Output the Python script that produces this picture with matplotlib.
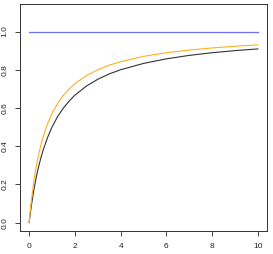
import matplotlib
matplotlib.use("Agg")
import matplotlib.pyplot as plt

# valores
x_vals = [0, 0.05, 0.1, 0.2, 0.3, 0.4, 0.5, 0.6, 0.8, 1, 1.25, 1.5, 1.75,
          2, 2.5, 3, 3.5, 4, 5, 6, 7, 8, 9, 10]
black_vals = [0, .048, .091, .167, .231, .286, .333, .375, .444, .5, .556,
              .6, .636, .667, .714, .75, .778, .8, .833, .857, .875, .889,
              .9, .909]
orange_vals = [0, .0625, .118, .211, .286, .348, .4, .444, .516, .571, .625,
               .667, .7, .727, .769, .8, .824, .842, .870, .889, .903, .914,
               .923, .930]
blue_x = [0, 10]
blue_vals = [1.0, 1.0]

x_ticks = [0, 2, 4, 6, 8, 10]
y_ticks = [0.0, 0.2, 0.4, 0.6, 0.8, 1.0]

plt.rcParams["font.family"] = ["Liberation Sans", "DejaVu Sans"]

fig = plt.figure(figsize=(2.73, 2.54), dpi=100)
ax = fig.add_axes([20 / 273, 23 / 254, 247 / 273, 227 / 254])

ax.plot(x_vals, black_vals, color="#333333", lw=0.8)
ax.plot(x_vals, orange_vals, color="#FFB020", lw=0.8)
ax.plot(blue_x, blue_vals, color="#6F6FFF", lw=0.9)

ax.set_xlim(-0.4, 10.4)
ax.set_ylim(-0.044, 1.144)
ax.set_xticks(x_ticks)
ax.set_xticklabels([str(t) for t in x_ticks])
ax.set_yticks(y_ticks)
ax.set_yticklabels([f"{t:.1f}" for t in y_ticks], rotation=90, va="center")
ax.tick_params(direction="out", length=3.5, width=0.6, labelsize=6,
               pad=5, colors="#222222")

for s in ax.spines.values():
    s.set_linewidth(0.7)
    s.set_color("#333333")

fig.savefig("out.png", dpi=100)
plt.close(fig)
